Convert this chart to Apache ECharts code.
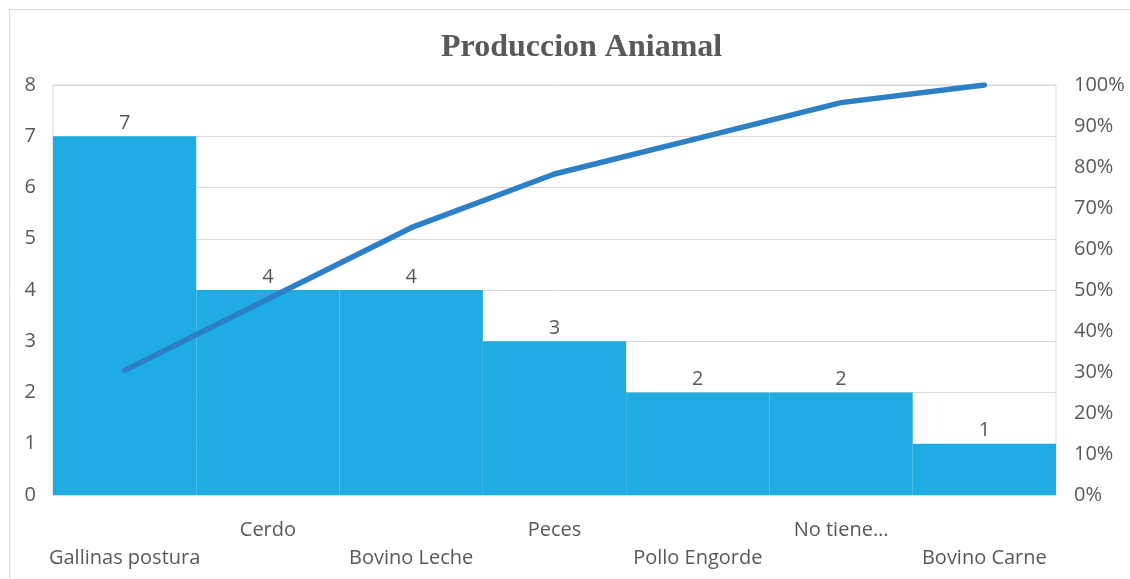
<!DOCTYPE html>
<html>
<head>
<meta charset="utf-8">
<script src="https://cdn.jsdelivr.net/npm/echarts@6/dist/echarts.min.js"></script>
<style>
html,body{margin:0;padding:0;background:#fff;}
#chart{width:1130px;height:579px;}
</style>
</head>
<body>
<div id="chart"></div>
<script>
var categorias = ['Gallinas postura', 'Cerdo', 'Bovino Leche', 'Peces', 'Pollo Engorde', 'No tiene…', 'Bovino Carne'];
var cantidades = [7, 4, 4, 3, 2, 2, 1];
var acumulado = [30.4, 47.8, 65.2, 78.3, 87.0, 95.7, 100];

var fuente = '"Open Sans", "Noto Sans", sans-serif';
var gris = '#595959';

var myChart = echarts.init(document.getElementById('chart'));
var option = {
	animation: false,
	title: {
		text: 'Produccion Aniamal',
		left: 436,
		top: 27,
		textStyle: {fontFamily: '"Liberation Serif", serif', fontWeight: 'bold', fontSize: 32, color: gris}
	},
	graphic: [{
		type: 'rect',
		shape: {x: 9.5, y: 9.5, width: 1140, height: 600},
		style: {fill: 'none', stroke: '#d9d9d9', lineWidth: 1},
		silent: true
	}],
	grid: {left: 53, right: 74, top: 85, bottom: 84, show: true, borderColor: '#d9d9d9', borderWidth: 1},
	xAxis: {
		type: 'category',
		data: categorias,
		axisLine: {lineStyle: {color: '#d9d9d9'}},
		axisTick: {show: false},
		axisLabel: {
			interval: 0,
			color: gris,
			fontFamily: fuente,
			fontSize: 20,
			lineHeight: 28,
			margin: 21,
			formatter: function (v, i) { return i % 2 === 0 ? '\n' + v : v; }
		}
	},
	yAxis: [{
		type: 'value',
		min: 0, max: 8, interval: 1,
		axisLine: {show: false},
		axisTick: {show: false},
		splitLine: {lineStyle: {color: '#d9d9d9'}},
		axisLabel: {color: gris, fontFamily: fuente, fontSize: 20, margin: 17}
	}, {
		type: 'value',
		min: 0, max: 100, interval: 10,
		axisLine: {show: false},
		axisTick: {show: false},
		splitLine: {show: false},
		axisLabel: {color: gris, fontFamily: fuente, fontSize: 20, margin: 18, formatter: '{value}%'}
	}],
	series: [{
		name: 'Cantidad',
		type: 'bar',
		data: cantidades,
		barCategoryGap: 0,
		itemStyle: {color: '#1eace3'},
		label: {show: true, position: 'top', color: gris, fontFamily: fuente, fontSize: 20, distance: 3}
	}, {
		name: 'Acumulado',
		type: 'line',
		yAxisIndex: 1,
		data: acumulado,
		symbol: 'none',
		lineStyle: {color: '#2d7fc6', width: 5.5, cap: 'round'}
	}]
};
myChart.setOption(option);
</script>
</body>
</html>
